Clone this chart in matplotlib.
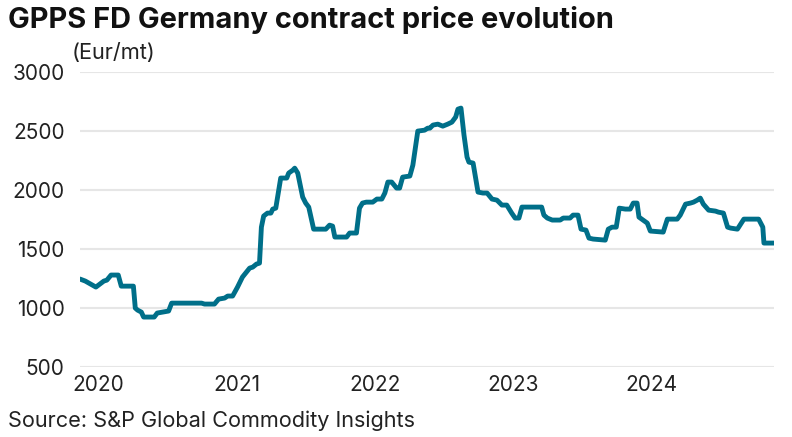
import pandas as pd
import matplotlib.pyplot as plt
import matplotlib.dates as mdates

plt.rcParams['font.family'] = ['Inter', 'DejaVu Sans']

# price points (Eur/mt)
dates = [
    "2019-11-14", "2019-11-28", "2019-12-12", "2019-12-26", "2020-01-09", "2020-01-16",
    "2020-01-24", "2020-02-04", "2020-02-23", "2020-03-02", "2020-03-09", "2020-04-03",
    "2020-04-08", "2020-04-14", "2020-04-24", "2020-04-30", "2020-05-28", "2020-06-05",
    "2020-06-19", "2020-07-05", "2020-07-13", "2020-09-30", "2020-10-08", "2020-11-03",
    "2020-11-14", "2020-11-30", "2020-12-08", "2020-12-21", "2021-01-03", "2021-01-16",
    "2021-02-04", "2021-02-12", "2021-02-22", "2021-03-02", "2021-03-07", "2021-03-13",
    "2021-03-23", "2021-04-01", "2021-04-06", "2021-04-14", "2021-04-27", "2021-05-13",
    "2021-05-18", "2021-05-29", "2021-06-03", "2021-06-11", "2021-06-24", "2021-07-02",
    "2021-07-10", "2021-07-23", "2021-08-24", "2021-09-03", "2021-09-11", "2021-09-17",
    "2021-10-18", "2021-10-26", "2021-11-13", "2021-11-21", "2021-11-29", "2021-12-09",
    "2021-12-26", "2022-01-06", "2022-01-19", "2022-01-27", "2022-02-04", "2022-02-14",
    "2022-02-27", "2022-03-07", "2022-03-15", "2022-04-03", "2022-04-11", "2022-04-24",
    "2022-05-12", "2022-05-20", "2022-05-26", "2022-06-03", "2022-06-16", "2022-06-29",
    "2022-07-12", "2022-07-23", "2022-08-02", "2022-08-08", "2022-08-16", "2022-08-24",
    "2022-09-01", "2022-09-06", "2022-09-17", "2022-09-30", "2022-10-13", "2022-10-24",
    "2022-11-06", "2022-11-19", "2022-12-02", "2022-12-15", "2022-12-28", "2023-01-06",
    "2023-01-16", "2023-01-24", "2023-03-17", "2023-03-23", "2023-04-01", "2023-04-14",
    "2023-05-05", "2023-05-13", "2023-05-31", "2023-06-08", "2023-06-21", "2023-06-29",
    "2023-07-12", "2023-07-20", "2023-07-31", "2023-09-01", "2023-09-09", "2023-09-19",
    "2023-09-30", "2023-10-08", "2023-10-24", "2023-11-06", "2023-11-14", "2023-11-24",
    "2023-11-29", "2023-12-10", "2023-12-21", "2023-12-29", "2024-02-01", "2024-02-12",
    "2024-03-09", "2024-03-17", "2024-03-31", "2024-04-13", "2024-04-21", "2024-05-01",
    "2024-05-09", "2024-05-17", "2024-05-31", "2024-06-18", "2024-06-26", "2024-07-09",
    "2024-07-20", "2024-07-28", "2024-08-15", "2024-09-01", "2024-10-10", "2024-10-21",
    "2024-10-24", "2024-11-19",
]
prices = [
    1246, 1229, 1203, 1178, 1212, 1229,
    1237, 1280, 1280, 1186, 1186, 1186,
    1000, 983, 966, 924, 924, 958,
    966, 975, 1042, 1042, 1034, 1034,
    1076, 1085, 1102, 1102, 1178, 1263,
    1339, 1347, 1373, 1381, 1686, 1780,
    1805, 1805, 1839, 1847, 2102, 2102,
    2144, 2169, 2186, 2144, 1941, 1890,
    1856, 1669, 1669, 1703, 1695, 1602,
    1602, 1636, 1636, 1847, 1890, 1898,
    1898, 1924, 1924, 1975, 2068, 2068,
    2017, 2017, 2110, 2119, 2212, 2500,
    2508, 2525, 2525, 2551, 2559, 2542,
    2559, 2576, 2619, 2686, 2695, 2466,
    2280, 2237, 2229, 1983, 1975, 1975,
    1924, 1915, 1873, 1873, 1805, 1763,
    1763, 1856, 1856, 1788, 1763, 1746,
    1746, 1763, 1763, 1788, 1788, 1669,
    1661, 1593, 1585, 1576, 1669, 1686,
    1686, 1847, 1839, 1839, 1890, 1890,
    1771, 1746, 1720, 1653, 1644, 1754,
    1754, 1788, 1881, 1890, 1898, 1915,
    1932, 1881, 1830, 1822, 1813, 1805,
    1686, 1678, 1669, 1754, 1754, 1686,
    1551, 1551,
]

x = pd.to_datetime(dates)

fig = plt.figure(figsize=(7.92, 4.37), dpi=100)
ax = fig.add_axes([0.101, 0.160, 0.876, 0.675])

ax.plot(x, prices, color="#006F89", lw=3.5, solid_capstyle="round", solid_joinstyle="round", zorder=3)

ax.set_ylim(500, 3000)
ax.set_yticks([500, 1000, 1500, 2000, 2500, 3000])
ax.set_xlim(x[0], x[-1])
ax.xaxis.set_major_locator(mdates.YearLocator())
ax.xaxis.set_major_formatter(mdates.DateFormatter("%Y"))

ax.grid(axis="y", color="#e6e6e6", lw=1.5, zorder=0)
for s in ax.spines.values():
    s.set_visible(False)
ax.tick_params(axis="both", length=0, labelsize=15, colors="#222222")
ax.tick_params(axis="y", pad=11)
ax.tick_params(axis="x", pad=6)

fig.text(0.010, 0.955, "GPPS FD Germany contract price evolution", fontsize=20.9,
         fontweight="bold", color="#111111", va="center")
fig.text(0.091, 0.878, "(Eur/mt)", fontsize=15.7, color="#222222", va="center")
fig.text(0.010, 0.038, "Source: S&P Global Commodity Insights", fontsize=15.6,
         color="#222222", va="center")

fig.savefig("out.png", dpi=100)
